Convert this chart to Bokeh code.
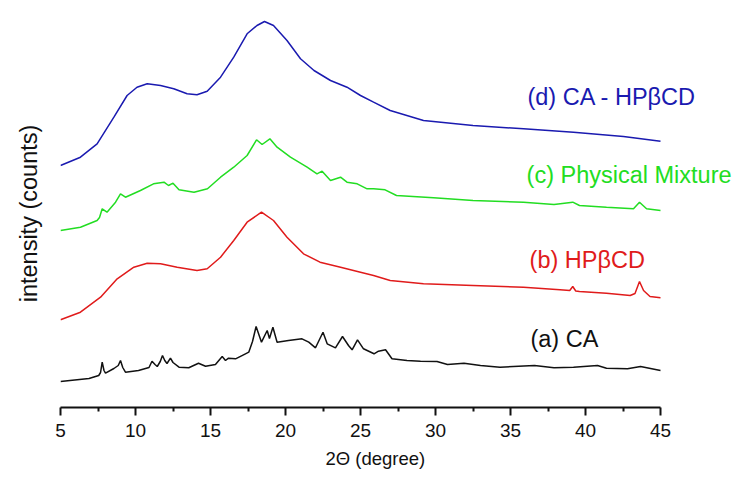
from bokeh.plotting import figure
from bokeh.models import Range1d, FixedTicker, Title
from bokeh.embed import file_html
from bokeh.resources import INLINE
from bokeh.core.properties import value

# ---- data (2theta in degrees, stacked intensity in arbitrary units) ----
ca_x = [5, 6.9, 7.55, 7.67, 7.78, 7.9, 8.0, 8.56, 8.85, 9.0, 9.15, 9.33, 10.2, 10.9, 11.1, 11.3, 11.45,
        11.65, 11.8, 11.95, 12.1, 12.33, 12.5, 12.9, 13.55, 14.2, 14.67, 15.33, 15.78, 16.0, 16.2,
        16.67, 17.33, 17.55, 17.8, 18.04, 18.4, 18.78, 18.93, 19.16, 19.44, 20.2, 21.1, 21.55, 22.0,
        22.5, 22.78, 23.33, 23.8, 24.2, 24.44, 24.8, 25.2, 25.9, 26.2, 26.67, 27.1, 28.1, 29.0,
        30.1, 30.8, 31.9, 33.0, 34.3, 36.6, 37.9, 39.2, 40.8, 41.4, 42.8, 43.67, 45]
ca_y = [26, 29, 32, 35, 45.3, 37, 34.3, 39, 42, 47, 40, 35.3, 37, 40, 46.3, 43, 41,
        46, 52, 47, 44, 49.3, 45, 40.3, 39.7, 44.3, 41.3, 43, 51, 47, 49.3,
        48.7, 53.7, 55.3, 66, 81, 65.3, 77, 69, 80.3, 65.3, 67, 68.7, 65.3, 59.7,
        75.3, 63.7, 59.7, 71, 62, 57.7, 67.7, 58.7, 53.7, 56.3, 57.7, 48.7, 47, 46.3,
        46, 43, 44.3, 42, 40.3, 42, 39.7, 40.3, 42, 39.3, 38.7, 41, 37]

hp_x = [5, 6.33, 7.67, 8.78, 9.89, 10.78, 11.67, 12.78, 14.1, 14.78, 15.67, 16.55, 17.44, 18.4,
        19.2, 20.1, 21.2, 22.3, 23.67, 25, 25.87, 26.98, 29.2, 32.5, 35.87, 38.3, 38.95, 39.15,
        39.35, 39.6, 41.4, 42.98, 43.3, 43.6, 43.87, 44.3, 45]
hp_y = [87.7, 95.3, 110.3, 128.7, 140.3, 144.3, 143.7, 140.3, 137, 138.7, 150.3, 167, 185.3, 195.3,
        187, 170.3, 153.7, 145.3, 140.3, 135.3, 132, 127, 123.7, 122, 120.3, 117.7, 117, 121,
        116.5, 116, 114.3, 112, 114, 126, 117, 111, 109.7]

pm_x = [5, 6.33, 7.44, 7.6, 7.78, 8.1, 8.67, 9.0, 9.33, 10.33, 11.2, 11.9, 12.2, 12.5, 12.9,
        13.9, 14.8, 15.67, 16.55, 17.44, 18.07, 18.44, 18.96, 19.44, 20.33, 21.44, 22.1, 22.44,
        23.0, 23.67, 24.1, 24.78, 25.44, 25.87, 26.64, 27.4, 29.87, 32.5, 35.87, 37.9, 39.15,
        39.6, 41.4, 43.2, 43.6, 44.07, 45]
pm_y = [177, 180.3, 187, 190, 198.7, 195.3, 205.3, 213.7, 210.3, 217, 223.7, 225.3, 222, 224.3, 217.7,
        215.3, 218.7, 230.3, 240.3, 252, 267.7, 263, 268.7, 260.3, 250.3, 240.3, 233.7, 236.3,
        227, 230.3, 225.3, 223.7, 218.7, 218.7, 217.7, 212, 209.7, 207, 205.3, 203, 205.3,
        202, 200.3, 198.7, 205.3, 198.7, 197]

ic_x = [5, 6.33, 7.44, 8.56, 9.44, 10.1, 10.78, 11.67, 12.55, 13.44, 14.1, 14.78, 15.67, 16.55,
        17.44, 18.1, 18.6, 19.2, 20.1, 21.0, 21.9, 23.0, 24.1, 25.0, 25.87, 26.98, 29.2, 32.5,
        35.87, 39.2, 42.53, 45]
ic_y = [242, 250.3, 263.7, 290.3, 312, 320.3, 323.7, 322, 318.7, 313.7, 312.7, 316.3, 330.3, 350.3,
        373.7, 382, 386, 382, 367, 348.7, 337, 327, 320.3, 312, 305.3, 297, 287, 282,
        278.7, 275.3, 271, 266.3]

series_labels = ["(a) CA", "(b) HP\u03b2CD", "(c) Physical Mixture", "(d) CA - HP\u03b2CD"]
x_ticks = [5, 10, 15, 20, 25, 30, 35, 40, 45]
x_minor = [7.5, 12.5, 17.5, 22.5, 27.5, 32.5, 37.5, 42.5]

colors = ["#111111", "#e01b1b", "#22dd22", "#1a1ab0"]
label_x = [36.33, 36.27, 36.07, 36.13]
label_y = [69, 148, 233, 311]

FONT = "Liberation Sans"

p = figure(frame_width=678, frame_height=388, output_backend="svg", toolbar_location=None,
           x_range=Range1d(5, 50.2), y_range=Range1d(0, 388),
           min_border_left=60, min_border_right=0, min_border_top=19, min_border_bottom=68)
p.outline_line_color = None
p.xgrid.visible = False
p.ygrid.visible = False
p.background_fill_color = "white"
p.border_fill_color = "white"

for xs, ys, c in [(ca_x, ca_y, colors[0]), (hp_x, hp_y, colors[1]),
                  (pm_x, pm_y, colors[2]), (ic_x, ic_y, colors[3])]:
    p.line(xs, ys, line_color=c, line_width=1.5)

p.text(x=label_x, y=label_y, text=series_labels, text_color=colors,
       text_font=value(FONT), text_font_size=value("23.5px"),
       text_baseline="middle", text_align="left")

xa = p.xaxis[0]
xa.bounds = (5, 45)
xa.ticker = FixedTicker(ticks=x_ticks, minor_ticks=x_minor)
xa.axis_line_width = 2
xa.axis_line_color = "#111111"
xa.major_tick_line_width = 2
xa.minor_tick_line_width = 2
xa.major_tick_line_color = "#111111"
xa.minor_tick_line_color = "#111111"
xa.major_tick_in = 0
xa.major_tick_out = 8
xa.minor_tick_in = 0
xa.minor_tick_out = 4
xa.major_label_text_font = FONT
xa.major_label_text_font_size = "19px"
xa.major_label_text_color = "#111111"
xa.major_label_standoff = 8

# x-axis title as a below-title, offset to sit under the axis like the reference
p.add_layout(Title(text="2\u0398 (degree)", align="left", offset=265, standoff=12,
                   text_font=FONT, text_font_size="18.5px", text_font_style="normal",
                   text_color="#111111"), "below")

ya = p.yaxis[0]
ya.ticker = FixedTicker(ticks=[])
ya.axis_line_color = None
ya.major_tick_line_color = None
ya.minor_tick_line_color = None
ya.major_label_text_font_size = "0px"
ya.axis_label = "intensity (counts)"
ya.axis_label_text_font = FONT
ya.axis_label_text_font_size = "23.5px"
ya.axis_label_text_font_style = "normal"
ya.axis_label_text_color = "#111111"
ya.axis_label_standoff = 19

open("out.html", "w").write(file_html(p, INLINE))
